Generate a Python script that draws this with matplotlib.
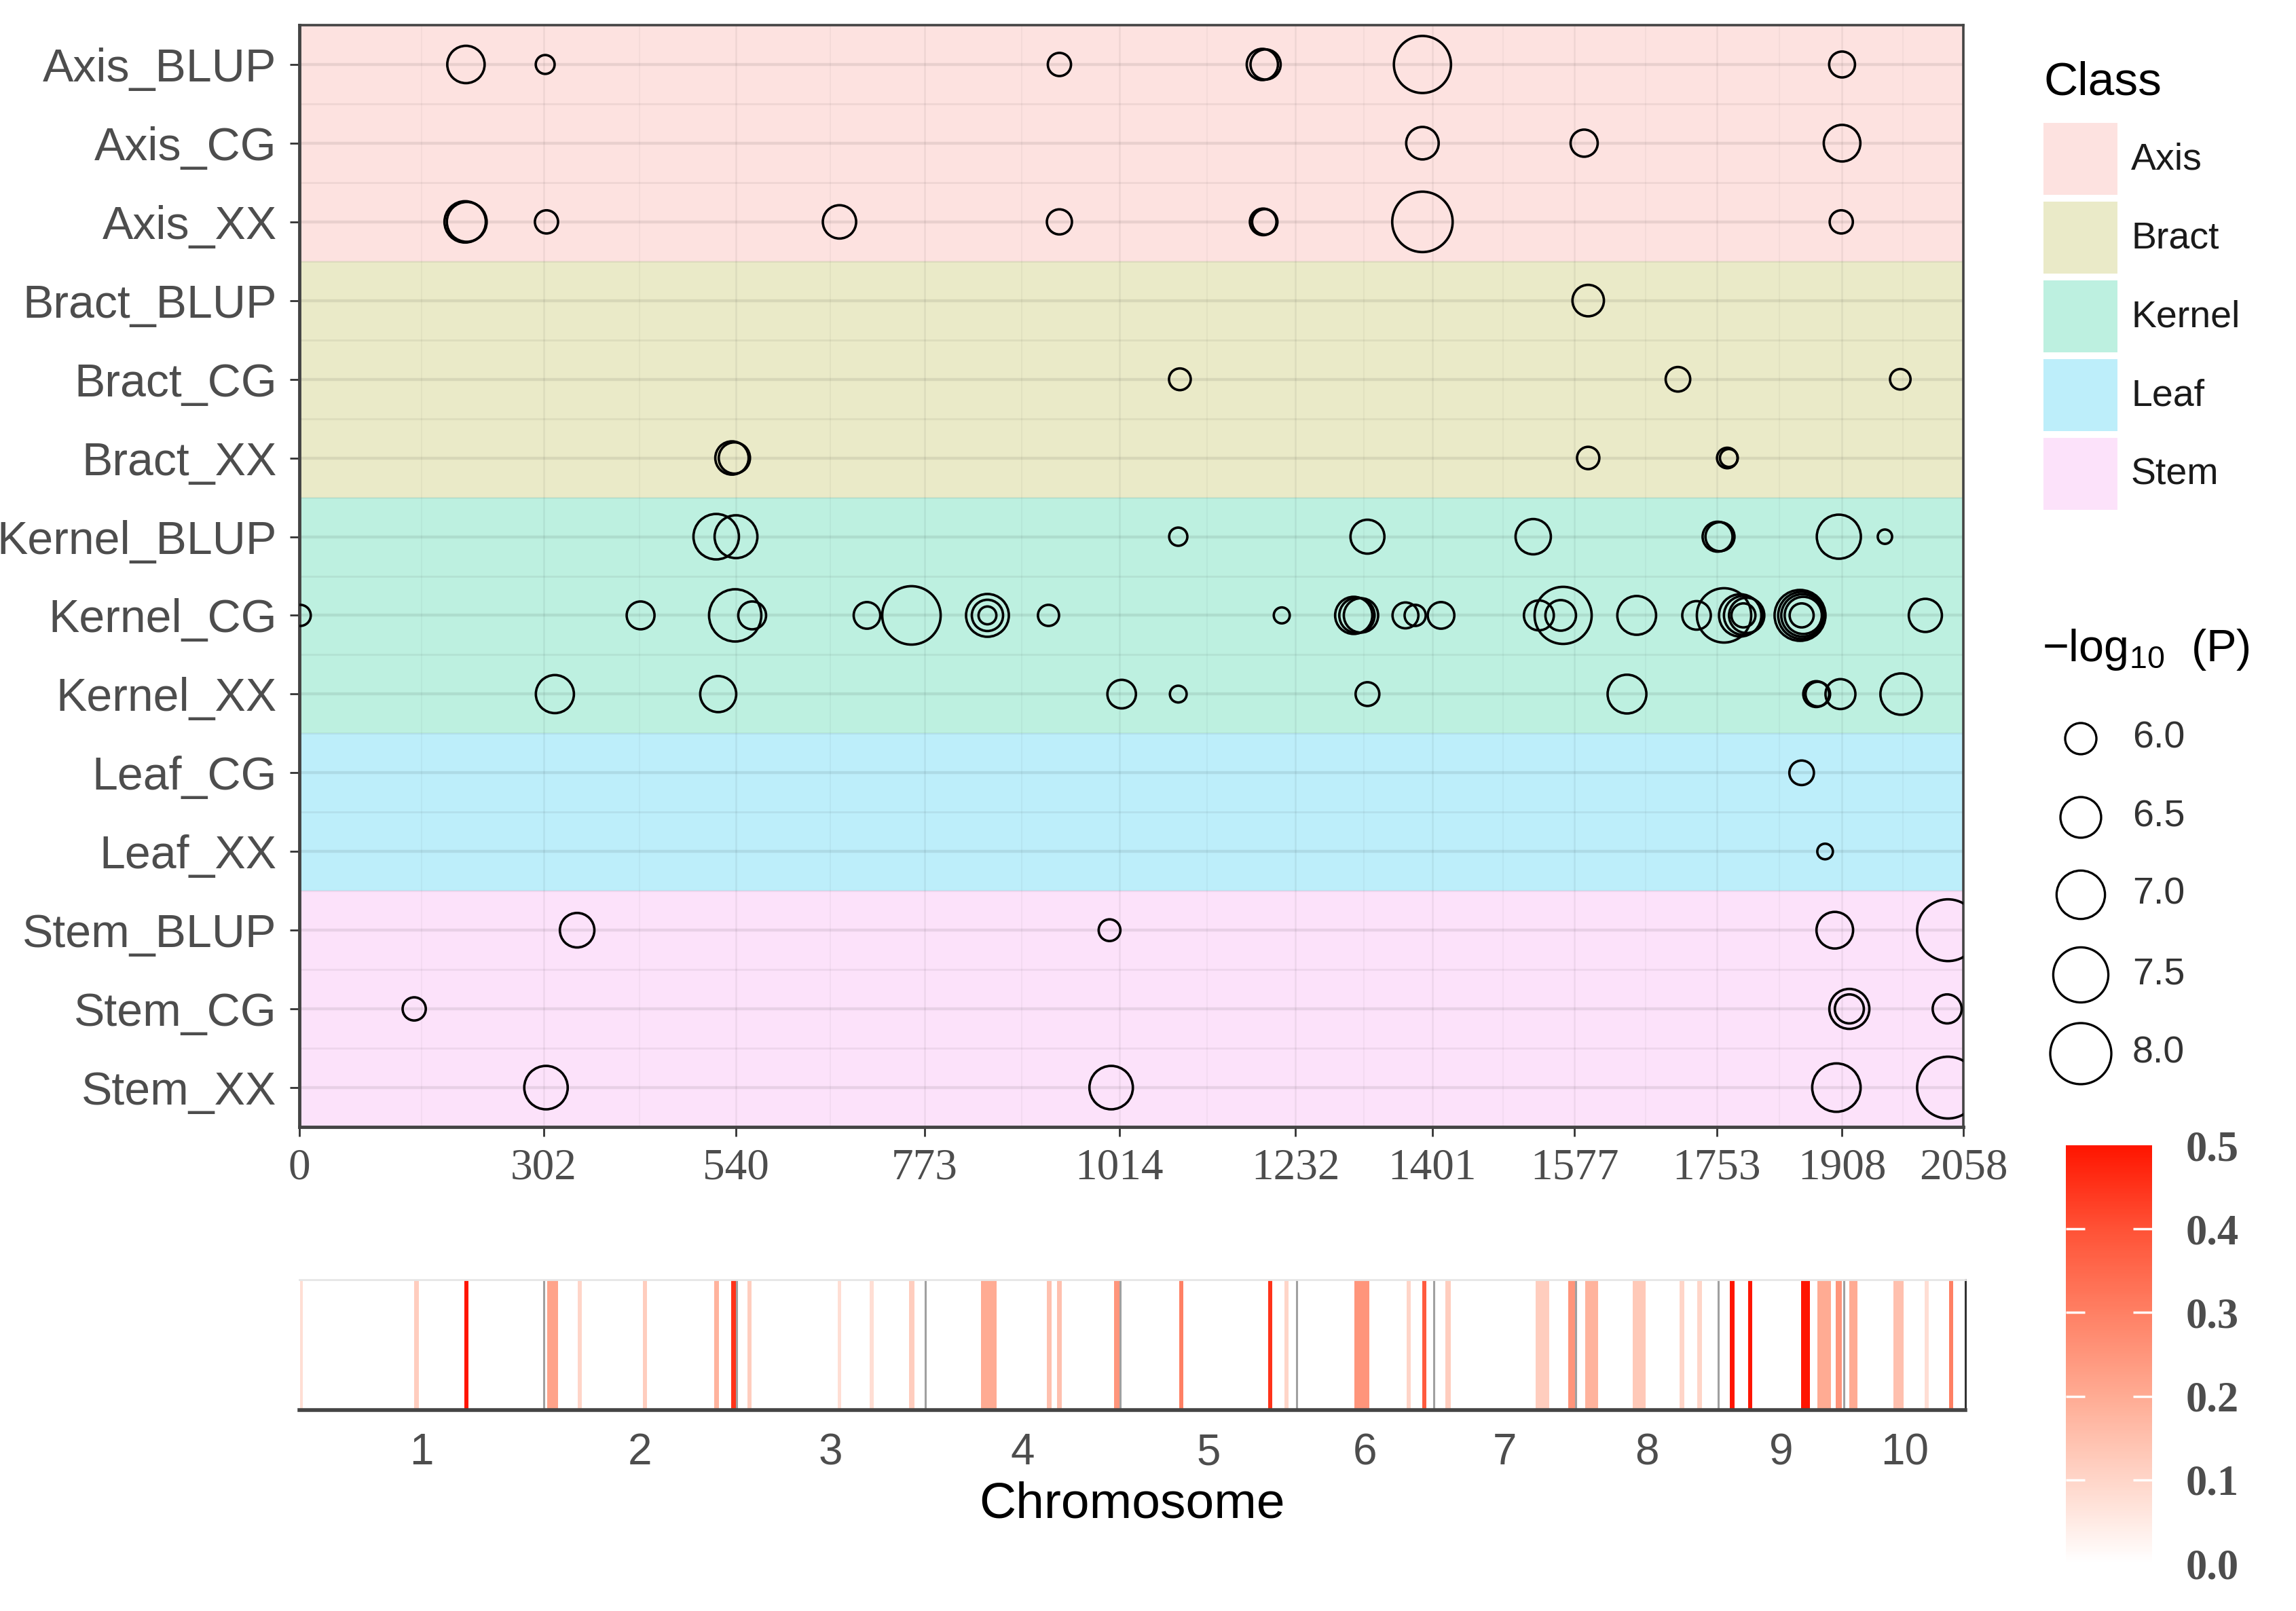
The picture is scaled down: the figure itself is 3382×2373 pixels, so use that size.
import numpy as np
import matplotlib
matplotlib.use('Agg')
import matplotlib.pyplot as plt
from matplotlib.colors import LinearSegmentedColormap, Normalize
from matplotlib.cm import ScalarMappable
from matplotlib.patches import Rectangle

# ---- data ----
traits = ['Axis_BLUP', 'Axis_CG', 'Axis_XX',
          'Bract_BLUP', 'Bract_CG', 'Bract_XX',
          'Kernel_BLUP', 'Kernel_CG', 'Kernel_XX',
          'Leaf_CG', 'Leaf_XX',
          'Stem_BLUP', 'Stem_CG', 'Stem_XX']
classes = ['Axis', 'Bract', 'Kernel', 'Leaf', 'Stem']
class_colors = ['#FDE2E0', '#EAEAC8', '#BDF0E0', '#BDEEFA', '#FCE2FA']

# cumulative chromosome ends (Mb)
chrom_ends = [302, 540, 773, 1014, 1232, 1401, 1577, 1753, 1908, 2058]
chrom_names = ['1', '2', '3', '4', '5', '6', '7', '8', '9', '10']

# significant hits: position (Mb) and -log10(P) per trait
hit_pos = {
    'Axis_BLUP': [206, 304, 940, 1191, 1195, 1389, 1908],
    'Axis_CG': [1389, 1589, 1908],
    'Axis_XX': [205, 207, 305.6, 668, 940, 1192, 1194, 1389, 1907],
    'Bract_BLUP': [1594],
    'Bract_CG': [1089, 1705, 1980],
    'Bract_XX': [535, 538, 1594, 1766, 1768],
    'Kernel_BLUP': [515.5, 540, 1087, 1321, 1526, 1754, 1757, 1904, 1961],
    'Kernel_CG': [1, 422, 539, 560, 702, 757, 851, 851, 851, 926.5, 1215,
                  1304, 1308, 1313, 1368, 1380, 1412, 1533, 1560, 1563, 1654,
                  1728, 1762, 1782, 1786, 1790, 1786, 1856, 1858, 1859, 1860,
                  1858, 2011],
    'Kernel_XX': [316, 518, 1017, 1087, 1321, 1642, 1876, 1878, 1906, 1981],
    'Leaf_CG': [1858],
    'Leaf_XX': [1887],
    'Stem_BLUP': [343.5, 1002, 1899, 2039],
    'Stem_CG': [142, 1917, 1917, 2038],
    'Stem_XX': [305, 1004, 1901, 2039],
}
hit_logp = {
    'Axis_BLUP': [6.31, 5.53, 5.67, 6.0, 5.95, 7.66, 5.77],
    'Axis_CG': [6.06, 5.82, 6.27],
    'Axis_XX': [6.54, 6.45, 5.67, 6.1, 5.74, 5.8, 5.75, 7.94, 5.67],
    'Bract_BLUP': [6.01],
    'Bract_CG': [5.62, 5.72, 5.58],
    'Bract_XX': [6.1, 6.0, 5.64, 5.58, 5.5],
    'Kernel_BLUP': [6.8, 6.63, 5.51, 6.13, 6.2, 5.94, 5.9, 6.71, 5.41],
    'Kernel_CG': [5.6, 5.85, 7.28, 5.85, 5.8, 7.77, 6.63, 6.0, 5.5, 5.6, 5.45,
                  6.3, 6.2, 6.15, 5.77, 5.6, 5.8, 5.94, 5.97, 7.66, 6.39,
                  5.88, 7.44, 6.6, 6.4, 6.2, 5.7, 7.18, 6.9, 6.6, 6.3,
                  5.7, 6.09],
    'Kernel_XX': [6.35, 6.24, 5.88, 5.47, 5.69, 6.39, 5.77, 5.72, 5.94, 6.54],
    'Leaf_CG': [5.72],
    'Leaf_XX': [5.44],
    'Stem_BLUP': [6.16, 5.62, 6.27, 8.06],
    'Stem_CG': [5.67, 6.46, 5.9, 5.9],
    'Stem_XX': [6.67, 6.67, 7.0, 8.06],
}
size_levels = [6.0, 6.5, 7.0, 7.5, 8.0]

# density strip: window centre (Mb), window width (Mb), value
strip_pos = [2.5, 145, 206.5, 313, 346, 427, 515, 536.5, 556, 667, 706.6,
             756.5, 851.5, 926, 939, 1010, 1089, 1199, 1219, 1312.5, 1370,
             1390, 1419, 1535.5, 1572.5, 1596, 1655, 1708, 1730, 1770, 1792,
             1860.5, 1883.5, 1901.5, 1920, 1975.5, 2010, 2040]
strip_width = [4, 6, 5, 13, 5, 5, 6, 6, 5, 4, 5,
               6, 19, 6, 6, 7, 5, 5, 5, 19, 5,
               5, 7, 17, 11, 16, 16, 6, 6, 6, 5,
               11, 17, 7, 10, 13, 5, 5]
strip_value = [0.08, 0.12, 0.5, 0.22, 0.1, 0.12, 0.18, 0.45, 0.12, 0.08, 0.08,
               0.12, 0.2, 0.15, 0.15, 0.25, 0.3, 0.45, 0.1, 0.25, 0.1,
               0.38, 0.12, 0.12, 0.25, 0.18, 0.13, 0.1, 0.1, 0.5, 0.5,
               0.5, 0.2, 0.25, 0.2, 0.15, 0.08, 0.3]

# ---- layout helpers (pixels of the 3382x2373 output) ----
W, H = 3382, 2373
DPI = 100
PT = 72.0 / DPI


def rect(x0, y0, x1, y1):
    return [x0 / W, 1 - y1 / H, (x1 - x0) / W, (y1 - y0) / H]


def size_pts(v):
    d = np.sqrt(np.clip(3168 * np.asarray(v, float) - 16508, 150, None)) - 4
    return (d * PT) ** 2


plt.rcParams['font.family'] = ['Liberation Sans', 'DejaVu Sans']
fig = plt.figure(figsize=(W / DPI, H / DPI), dpi=DPI)

# ---- main bubble panel ----
ax = fig.add_axes(rect(441, 37, 2892, 1660))
row_of = {t: i + 1 for i, t in enumerate(traits)}
for cls, col in zip(classes, class_colors):
    rows = [row_of[t] for t in traits if t.split('_')[0] == cls]
    ax.axhspan(min(rows) - 0.5, max(rows) + 0.5, color=col, lw=0, zorder=0)

ticks_x = [0] + chrom_ends
minor_x = [(a + b) / 2 for a, b in zip(ticks_x[:-1], ticks_x[1:])]
for x in ticks_x:
    ax.axvline(x, color='black', alpha=0.06, lw=1.8, zorder=1)
for x in minor_x:
    ax.axvline(x, color='black', alpha=0.045, lw=1.2, zorder=1)
for r in range(1, len(traits) + 1):
    ax.axhline(r, color='black', alpha=0.08, lw=3.2, zorder=1)
for r in range(1, len(traits)):
    ax.axhline(r + 0.5, color='black', alpha=0.055, lw=2.0, zorder=1)

for t in traits:
    ax.scatter(hit_pos[t], [row_of[t]] * len(hit_pos[t]), s=size_pts(hit_logp[t]),
               facecolors='none', edgecolors='black', linewidths=2.6, zorder=3)

ax.set_xlim(0, 2058)
ax.set_ylim(len(traits) + 0.5, 0.5)
ax.set_yticks(range(1, len(traits) + 1))
ax.set_yticklabels(traits)
ax.set_xticks(ticks_x)
ax.set_xticklabels([str(v) for v in ticks_x], family='Liberation Serif')
ax.tick_params(axis='y', labelsize=49, labelcolor='#4D4D4D', length=10,
               width=2, color='#333333', pad=14)
ax.tick_params(axis='x', labelsize=47, labelcolor='#4D4D4D', length=10,
               width=2, color='#333333', pad=12)
for sp in ax.spines.values():
    sp.set_color('#444444')
    sp.set_linewidth(2.6)
ax.spines['left'].set_linewidth(3.5)
ax.spines['bottom'].set_linewidth(3.5)

# ---- density strip ----
cmap = LinearSegmentedColormap.from_list(
    'wr', ['#FFFFFF', '#FFD5C8', '#FFAB93', '#FF8064', '#FF5236', '#FF1500'])
norm = Normalize(0, 0.5)
sx = fig.add_axes(rect(441, 1885, 2895, 2077))
sx.bar(strip_pos, 1, width=strip_width, bottom=0,
       color=[cmap(norm(v)) for v in strip_value], lw=0, zorder=1)
for x in chrom_ends[:-1]:
    sx.axvline(x, color='#A0A0A0', lw=2.2, zorder=2)
sx.set_xlim(0, 2058)
sx.set_ylim(0, 1)
sx.set_yticks([])
chrom_starts = [0] + chrom_ends[:-1]
sx.set_xticks([(a + b) / 2 for a, b in zip(chrom_starts, chrom_ends)])
sx.set_xticklabels(chrom_names)
sx.tick_params(axis='x', length=0, labelsize=46, labelcolor='#4D4D4D', pad=24)
sx.set_xlabel('Chromosome', fontsize=54, color='black', labelpad=8)
sx.spines['left'].set_visible(False)
sx.spines['top'].set_color('#E6E6E6')
sx.spines['top'].set_linewidth(2)
sx.spines['right'].set_color('#333333')
sx.spines['right'].set_linewidth(2.2)
sx.spines['bottom'].set_color('#444444')
sx.spines['bottom'].set_linewidth(4)

# ---- colour bar ----
cax = fig.add_axes(rect(3043, 1687, 3170, 2303))
cb = fig.colorbar(ScalarMappable(norm=norm, cmap=cmap), cax=cax)
cb.outline.set_visible(False)
cb.set_ticks([0.0, 0.1, 0.2, 0.3, 0.4, 0.5])
cb.set_ticklabels(['0.0', '0.1', '0.2', '0.3', '0.4', '0.5'])
cax.tick_params(direction='in', length=20, width=2.5, color='white',
                left=True, right=True, labelsize=45, labelcolor='#4D4D4D', pad=36)
end_ticks = cax.yaxis.get_major_ticks()
for tk in (end_ticks[0], end_ticks[-1]):
    tk.tick1line.set_visible(False)
    tk.tick2line.set_visible(False)
for tl in cax.get_yticklabels():
    tl.set_fontfamily('Liberation Serif')
    tl.set_fontweight('bold')

# ---- legends (drawn in pixel space) ----
ov = fig.add_axes([0, 0, 1, 1], zorder=5)
ov.set_xlim(0, W)
ov.set_ylim(H, 0)
ov.axis('off')

ov.text(3010, 122, 'Class', fontsize=50, color='black', va='center', ha='left')
for i, (cls, col) in enumerate(zip(classes, class_colors)):
    top = 181 + i * 116
    ov.add_patch(Rectangle((3010, top), 109, 106, facecolor=col, edgecolor='none'))
    ov.text(3139, top + 55, cls, fontsize=40, color='#1A1A1A', va='center', ha='left')

ov.text(3008, 957, r'$\mathregular{-log_{10}}$  (P)', fontsize=48, color='black',
        va='center', ha='left')
leg_y = [1088, 1204, 1318, 1436, 1552]
ov.scatter([3065] * len(size_levels), leg_y, s=size_pts(size_levels),
           facecolors='none', edgecolors='black', linewidths=2.4)
for v, y in zip(size_levels, leg_y):
    ov.text(3141, y, f'{v:.1f}', fontsize=40, color='#333333', va='center', ha='left')

fig.savefig('out.png', dpi=DPI)
